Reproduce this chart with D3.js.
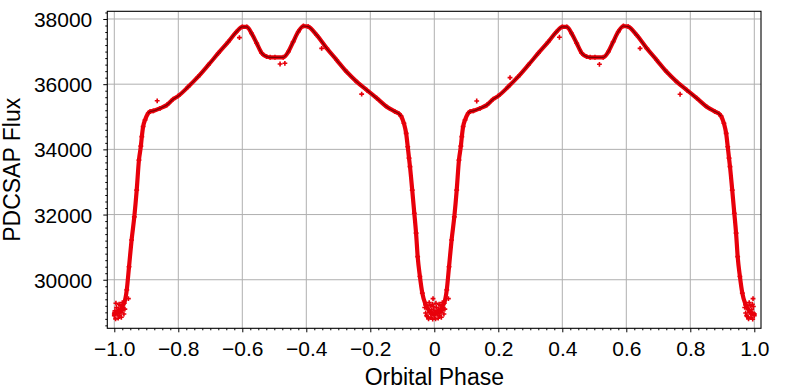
<!DOCTYPE html>
<html>
<head>
<meta charset="utf-8">
<script src="https://cdn.jsdelivr.net/npm/d3@7"></script>
<style>
  body { margin: 0; background: #fff; }
  text { font-family: "Liberation Sans", Arial, sans-serif; fill: #000; }
</style>
</head>
<body>
<svg width="789" height="391"></svg>
<script>
// one orbital cycle (phase 0..1), folded twice onto -1..1
const cyclePhase = [0.000, 0.010, 0.018, 0.026, 0.031, 0.039, 0.046, 0.054, 0.0625, 0.070,
  0.077, 0.083, 0.086, 0.090, 0.096, 0.106, 0.112, 0.122, 0.143, 0.164,
  0.184, 0.200, 0.231, 0.262, 0.294, 0.325, 0.356, 0.382, 0.400, 0.414,
  0.429, 0.445, 0.461, 0.476, 0.487, 0.502, 0.528, 0.544, 0.559, 0.575,
  0.591, 0.606, 0.632, 0.664, 0.695, 0.726, 0.757, 0.789, 0.820, 0.851,
  0.877, 0.890, 0.896, 0.905, 0.912, 0.917, 0.921, 0.924, 0.931, 0.9375,
  0.943, 0.948, 0.955, 0.9625, 0.973, 0.987];
const cycleFlux = [28950, 28990, 29030, 29200, 29280, 29690, 30400, 31220, 31930, 32750,
  33670, 34100, 34390, 34700, 34900, 35107, 35160, 35180, 35260, 35360,
  35540, 35640, 35920, 36230, 36590, 36950, 37300, 37610, 37760, 37760,
  37560, 37255, 36950, 36845, 36825, 36825, 36825, 37000, 37300, 37610,
  37785, 37765, 37510, 37100, 36740, 36380, 36080, 35820, 35570, 35310,
  35160, 35090, 35020, 34800, 34490, 34080, 33730, 33470, 32750, 32040,
  31430, 30710, 30100, 29590, 29230, 29020];

// scatter of the primary-eclipse floor (phase relative to eclipse centre)
const floorPhase = [-0.030, -0.027, -0.025, -0.022, -0.020, -0.018, -0.015, -0.013, -0.010,
  -0.008, -0.005, -0.003, 0.000, 0.002, 0.004, 0.007, 0.009, 0.012, 0.014, 0.017,
  0.019, 0.022, 0.024, 0.027, 0.030, 0.033, -0.016, -0.006, 0.005, 0.015, 0.025,
  -0.024, -0.011, 0.001, 0.011, 0.021, -0.004, 0.044];
const floorFlux = [29150, 28980, 29250, 28870, 29100, 28800, 29000, 29200, 28850,
  29080, 28790, 29180, 28900, 29050, 28800, 29150, 28950, 28820, 29100, 28900,
  29200, 28850, 29050, 29150, 28950, 29100, 29300, 29250, 29280, 29250, 29300,
  28900, 28950, 29000, 29000, 29000, 29420, 29420];

// stray points off the band, both halves
const strayPhase = [-0.866, -0.609, -0.482, -0.467, -0.352, -0.227, 0.1325, 0.2366,
  0.516, 0.643, 0.768, 0.391];
const strayFlux = [35490, 37430, 36620, 36640, 37100, 35695, 35485, 36200,
  36610, 37100, 35690, 37440];

const xTicks = [-1.0, -0.8, -0.6, -0.4, -0.2, 0, 0.2, 0.4, 0.6, 0.8, 1.0];
const yTicks = [30000, 32000, 34000, 36000, 38000];

const svg = d3.select("svg");
const margin = { left: 107.3, right: 28, top: 11.3, bottom: 62.7 };
const width = 789 - margin.left - margin.right;
const height = 391 - margin.top - margin.bottom;

const x = d3.scaleLinear().domain([-1.0219, 1.0209]).range([0, width]);
const y = d3.scaleLinear().domain([28510, 38236]).range([height, 0]);

const g = svg.append("g").attr("transform", `translate(${margin.left},${margin.top})`);

svg.append("clipPath").attr("id", "clip")
  .append("rect").attr("width", width).attr("height", height);

// grid
g.append("g").selectAll("line").data(xTicks).join("line")
  .attr("x1", d => x(d)).attr("x2", d => x(d))
  .attr("y1", 0).attr("y2", height)
  .attr("stroke", "#b0b0b0").attr("stroke-width", 1);
g.append("g").selectAll("line").data(yTicks).join("line")
  .attr("y1", d => y(d)).attr("y2", d => y(d))
  .attr("x1", 0).attr("x2", width)
  .attr("stroke", "#b0b0b0").attr("stroke-width", 1);

// build folded data
const cycle = cyclePhase.map((p, i) => ({ p, f: cycleFlux[i] }));
const copies = [-1, 0].map(shift => cycle.map(d => ({ p: d.p + shift, f: d.f })));
// close each copy with the next eclipse floor
copies[0].push({ p: 0, f: cycleFlux[0] });
copies[1].push({ p: 1, f: cycleFlux[0] });

const floor = [];
[-1, 0, 1].forEach(shift => floorPhase.forEach((p, i) => {
  const pp = p + shift;
  if (pp >= -1 && pp <= 1) floor.push({ p: pp, f: floorFlux[i] });
}));
const stray = strayPhase.map((p, i) => ({ p, f: strayFlux[i] }));

const plot = g.append("g").attr("clip-path", "url(#clip)");

const line = d3.line().x(d => x(d.p)).y(d => y(d.f)).curve(d3.curveMonotoneX);
const outOfEclipse = d3.line().defined(d => d.f > 34950)
  .x(d => x(d.p)).y(d => y(d.f)).curve(d3.curveMonotoneX);

// black points underneath
copies.forEach(c => {
  plot.append("path").datum(c).attr("d", line)
    .attr("fill", "none").attr("stroke", "#e8000b").attr("stroke-width", 4.2)
    .attr("stroke-linejoin", "round").attr("stroke-linecap", "round");
});

const cross = d3.symbol().type(d3.symbolCross).size(13);
plot.append("g").selectAll("path")
  .data(copies.flat().concat(floor, stray)).join("path")
  .attr("transform", d => `translate(${x(d.p)},${y(d.f)})`)
  .attr("d", cross).attr("fill", "#e8000b");

copies.forEach(c => {
  plot.append("path").datum(c).attr("d", outOfEclipse)
    .attr("fill", "none").attr("stroke", "#4a0000").attr("stroke-width", 1.2)
    .attr("stroke-opacity", 0.7);
});

// axes (ticks on bottom/left only, pointing out)
const xAxis = d3.axisBottom(x).tickValues(xTicks).tickSize(4).tickPadding(9)
  .tickFormat(d => d === 0 ? "0" : d3.format(".1f")(d).replace("-", "\u2212"));
const gx = g.append("g").attr("transform", `translate(0,${height})`).call(xAxis);
const xMinor = d3.range(-40, 41).map(i => i * 0.025).filter(v => Math.abs(v * 5 - Math.round(v * 5)) > 1e-6);
g.append("g").attr("transform", `translate(0,${height})`)
  .call(d3.axisBottom(x).tickValues(xMinor).tickSize(2).tickFormat(""))
  .call(s => s.select(".domain").remove());

const yAxis = d3.axisLeft(y).tickValues(yTicks).tickSize(4).tickPadding(11)
  .tickFormat(d3.format("d"));
const gy = g.append("g").call(yAxis);
const yMinor = d3.range(28600, 38201, 200).filter(v => v % 2000 !== 0);
g.append("g").call(d3.axisLeft(y).tickValues(yMinor).tickSize(2).tickFormat(""))
  .call(s => s.select(".domain").remove());

[gx, gy].forEach(a => {
  a.select(".domain").remove();
  a.selectAll("text").style("font-size", "21px").style("font-family", "Liberation Sans, Arial, sans-serif");
});
gy.selectAll("text").attr("dy", "0.36em");

g.append("rect").attr("width", width).attr("height", height)
  .attr("fill", "none").attr("stroke", "#000").attr("stroke-width", 1.1);

svg.append("text").attr("x", margin.left + x(0)).attr("y", 385)
  .attr("text-anchor", "middle").style("font-size", "23px").text("Orbital Phase");
svg.append("text").attr("transform", `translate(20,${margin.top + height / 2}) rotate(-90)`)
  .attr("text-anchor", "middle").style("font-size", "23px").text("PDCSAP Flux");
</script>
</body>
</html>
